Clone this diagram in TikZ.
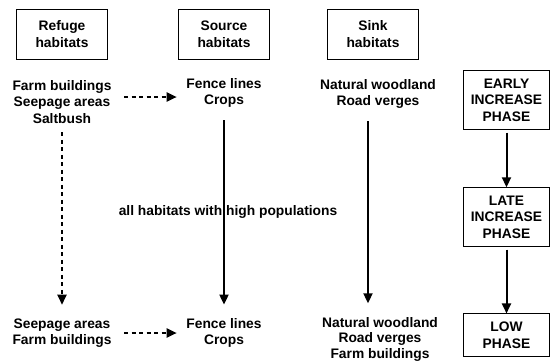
\documentclass[tikz,border=0pt]{standalone}
\usepackage{fontspec}
\setmainfont{Liberation Sans}
\usetikzlibrary{arrows.meta}

\begin{document}
\begin{tikzpicture}[x=1pt, y=-1pt, thick,
  font=\fontsize{13.8}{16.5}\selectfont\bfseries,
  hdr/.style = {draw, line width=0.8pt, align=center, minimum width=91pt, minimum height=50pt},
  phase/.style = {draw, line width=0.8pt, align=center, minimum width=86pt, inner ysep=8pt},
  txt/.style = {align=center},
  arr/.style = {line width=2pt, -{Triangle[length=10pt,width=9pt]}},
  dsh/.style = {arr, dash pattern=on 4pt off 3.5pt}]
\useasboundingbox (0,0) rectangle (550,360);
\node[hdr] (1) at (62,34) {Refuge\\habitats};
\node[hdr] (2) [right of=1, node distance=162pt] {Source\\habitats};
\node[hdr] (3) [right of=2, node distance=149pt] {Sink\\habitats};
\node[txt] (4) [below of=1, node distance=68pt] {Farm buildings\\Seepage areas\\Saltbush};
\node[txt] (5) [below of=2, node distance=59pt] {Fence lines\\Crops};
\node[txt] (6) [below of=3, node distance=60pt, xshift=5pt] {Natural woodland\\Road verges};
\node[txt] (7) [below of=4, node distance=231pt] {Seepage areas\\Farm buildings};
\node[txt] (8) [below of=5, node distance=240pt] {Fence lines\\Crops};
\node[txt, font=\fontsize{13.8}{15.5}\selectfont\bfseries] (9) [below of=6, node distance=245pt, xshift=2pt] {Natural woodland\\Road verges\\Farm buildings};
\node[phase] (10) at (506.5,100) {EARLY\\INCREASE\\PHASE};
\node[phase] (11) [below of=10, node distance=117pt] {LATE\\INCREASE\\PHASE};
\node[phase] (12) [below of=11, node distance=118pt] {LOW\\PHASE};
\node[txt] (13) at (228,212) {all habitats with high populations};
\draw[dsh, shorten <=9pt, shorten >=6pt] ([yshift=5pt]4.east) -- ([yshift=5pt]4.east -| 5.west);
\draw[dsh, shorten <=9pt, shorten >=6pt] (7) -- (8);
\draw[dsh, shorten <=5pt, shorten >=10pt] (4) -- (7);
\draw[arr, shorten <=9pt, shorten >=10pt] (5) -- (8);
\draw[arr, shorten <=9pt, shorten >=10pt] ([xshift=-10pt]6.south) -- ([xshift=-10pt]6.south |- 9.north);
\draw[arr, shorten <=3pt] (10) -- (11);
\draw[arr, shorten <=3pt] (11) -- (12);
\end{tikzpicture}
\end{document}
